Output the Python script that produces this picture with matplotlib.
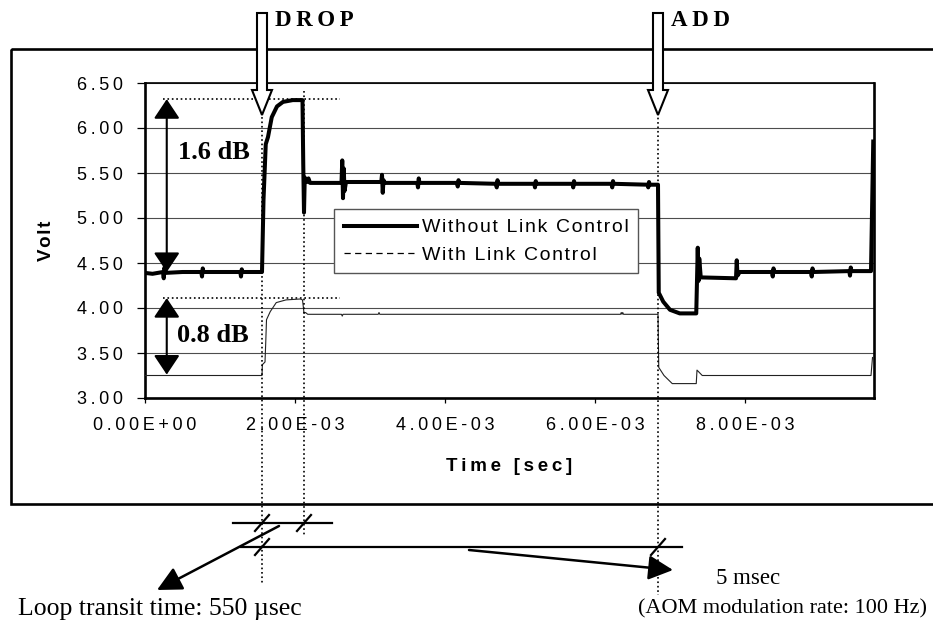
import matplotlib
matplotlib.use('Agg')
import matplotlib.pyplot as plt
import matplotlib.transforms as mtransforms
from matplotlib.lines import Line2D
from matplotlib.patches import Polygon, Rectangle, FancyArrowPatch
import numpy as np

plt.rcParams['font.family'] = ['Liberation Sans', 'DejaVu Sans']
SERIF = ['Liberation Serif', 'DejaVu Serif']

# Without link control (time in msec, level in volt)
t_without = [0.00, 0.10, 0.24, 0.25, 0.26, 0.27, 0.50, 0.75, 0.76, 0.77, 0.78,
             1.27, 1.28, 1.29, 1.30, 1.56, 1.58, 1.61, 1.64, 1.69, 1.76, 1.84,
             1.97, 2.10, 2.11, 2.12, 2.13, 2.16, 2.18, 2.20, 2.62, 2.63, 2.64,
             2.65, 2.66, 2.68, 3.15, 3.16, 3.17, 3.18, 3.20, 3.63, 3.64, 3.65,
             3.66, 4.16, 4.17, 4.18, 4.19, 4.68, 4.69, 4.70, 4.71, 5.19, 5.20,
             5.21, 5.22, 5.70, 5.71, 5.72, 5.73, 6.22, 6.23, 6.24, 6.25, 6.70,
             6.71, 6.72, 6.73, 6.84, 6.85, 6.91, 7.00, 7.13, 7.35, 7.37, 7.38,
             7.39, 7.41, 7.88, 7.89, 7.90, 7.93, 8.36, 8.37, 8.38, 8.39, 8.88,
             8.89, 8.90, 8.91, 9.39, 9.40, 9.41, 9.42, 9.68, 9.71]
v_without = [4.39, 4.38, 4.40, 4.33, 4.45, 4.39, 4.40, 4.40, 4.35, 4.44, 4.40,
             4.40, 4.35, 4.43, 4.40, 4.40, 5.20, 5.82, 5.90, 6.12, 6.24, 6.29,
             6.31, 6.31, 5.60, 5.06, 5.45, 5.40, 5.44, 5.39, 5.39, 5.64, 5.22,
             5.55, 5.30, 5.40, 5.40, 5.48, 5.28, 5.42, 5.39, 5.39, 5.34, 5.44,
             5.39, 5.39, 5.35, 5.42, 5.39, 5.38, 5.34, 5.42, 5.38, 5.38, 5.34,
             5.41, 5.38, 5.38, 5.34, 5.41, 5.38, 5.38, 5.34, 5.41, 5.38, 5.37,
             5.34, 5.40, 5.37, 5.37, 4.17, 4.07, 3.98, 3.94, 3.94, 4.67, 4.30,
             4.55, 4.34, 4.33, 4.53, 4.36, 4.40, 4.40, 4.35, 4.44, 4.40, 4.40,
             4.35, 4.44, 4.40, 4.41, 4.36, 4.45, 4.41, 4.41, 5.85]

# With link control
t_with = [0.00, 1.56, 1.565, 1.60, 1.61, 1.62, 1.67, 1.75, 1.88, 2.07, 2.10,
          2.11, 2.12, 2.14, 2.17, 2.62, 2.63, 2.64, 3.11, 3.12, 3.13, 6.34,
          6.35, 6.36, 6.37, 6.38, 6.84, 6.85, 6.92, 7.03, 7.35, 7.36, 7.43,
          9.68, 9.70]
v_with = [3.25, 3.25, 3.37, 3.40, 3.62, 3.87, 3.96, 4.06, 4.09, 4.10, 4.09,
          4.02, 3.94, 3.95, 3.93, 3.93, 3.91, 3.93, 3.93, 3.95, 3.93, 3.93,
          3.95, 3.93, 3.95, 3.93, 3.93, 3.34, 3.25, 3.16, 3.16, 3.31, 3.25,
          3.25, 3.45]

y_ticks = [3.0, 3.5, 4.0, 4.5, 5.0, 5.5, 6.0, 6.5]
x_ticks = [0, 2e-3, 4e-3, 6e-3, 8e-3]
labels = ['Without Link Control', 'With Link Control']

# event times (sec) and levels used by the annotations
t_drop, t_back, t_add = 1.56e-3, 2.12e-3, 6.84e-3
peak_without, base_without = 6.32, 4.40
peak_with, base_with = 4.11, 3.26

THIN, HAIR = '\u2009', '\u200a'


def spaced(s, sep=THIN):
    # excel-like loose letter spacing
    return sep.join(s)


W, H = 933, 626
fig = plt.figure(figsize=(W / 100, H / 100), dpi=100)
# pixel coordinates with origin at top left
px = mtransforms.Affine2D().scale(1 / W, -1 / H).translate(0, 1) + fig.transFigure

# outer frame of the chart
fig.add_artist(Rectangle((11, 49), 940, 455, transform=px, fill=False,
                         lw=1.9, ec='black'))

ax = fig.add_axes([145 / W, 1 - 398 / H, 729 / W, 315 / H])
ax.plot(np.array(t_without) * 1e-3, v_without, color='black', lw=2.9,
        solid_joinstyle='round', zorder=4)
ax.plot(np.array(t_with) * 1e-3, v_with, color='#222222', lw=0.8, zorder=4)

ax.set_xlim(0, 9.72e-3)
ax.set_ylim(3.0, 6.5)
ax.set_yticks(y_ticks)
ax.set_yticklabels([spaced(f'{v:.2f}') for v in y_ticks])
ax.set_xticks(x_ticks)
ax.set_xticklabels([spaced(f'{v:.2E}') for v in x_ticks])
ax.yaxis.grid(True, color='#4d4d4d', lw=0.8)
ax.set_axisbelow(True)
ax.tick_params(axis='y', direction='out', length=5.8, width=0.9, pad=10,
               labelsize=13)
ax.tick_params(axis='x', direction='out', length=3.6, width=0.9, pad=10,
               labelsize=13)
for side in ['left', 'right', 'bottom']:
    ax.spines[side].set_linewidth(1.9)
ax.spines['top'].set_linewidth(1.2)

ax.set_ylabel(spaced('Volt', HAIR), fontweight='bold', fontsize=13.5)
ax.yaxis.set_label_coords(-0.1235, 0.5)
ax.set_xlabel(spaced('Time [sec]'), fontweight='bold', fontsize=13.5)
ax.xaxis.set_label_coords(0.5, -0.19)

# legend (the controlled trace is drawn solid but listed as dashed)
handles = [Line2D([], [], color='black', lw=2.9),
           Line2D([], [], color='black', lw=0.9, dashes=(5, 3.5))]
leg = ax.legend(handles, [spaced(s, HAIR) for s in labels], loc='upper left',
                bbox_to_anchor=(334, 209), bbox_transform=px, fontsize=14,
                fancybox=False, edgecolor='#555555', framealpha=1,
                borderpad=0.5, handlelength=3.75, handletextpad=0.25,
                labelspacing=0.5, borderaxespad=0)
leg.get_frame().set_linewidth(1)
leg.set_zorder(5)

# level markers and dB arrows
for lev in [peak_without, peak_with]:
    ax.plot([0.24e-3, 2.6e-3], [lev, lev], ls=':', color='black', lw=1.2,
            zorder=3)
arrow_kw = dict(arrowstyle='<|-|>,head_length=0.6,head_width=0.4',
                color='black', lw=1.5, mutation_scale=20, shrinkA=0, shrinkB=0)
ax.annotate('', xy=(0.29e-3, peak_without), xytext=(0.29e-3, base_without),
            arrowprops=arrow_kw, zorder=5)
ax.annotate('', xy=(0.29e-3, peak_with), xytext=(0.29e-3, base_with),
            arrowprops=arrow_kw, zorder=5)
ax.text(0.92e-3, 5.73, '1.6 dB', family=SERIF, fontweight='bold',
        fontsize=19, ha='center', va='center', zorder=6)
ax.text(0.91e-3, 3.69, '0.8 dB', family=SERIF, fontweight='bold',
        fontsize=19, ha='center', va='center', zorder=6)

# dotted event lines running below the axes
trans = mtransforms.blended_transform_factory(ax.transData, px)
for t, y0, y1 in [(t_drop, 95, 585), (t_back, 91, 537), (t_add, 100, 595)]:
    fig.add_artist(Line2D([t, t], [y0, y1], transform=trans, ls=':',
                          lw=1.2, color='black', zorder=3))

xd = {t: ax.transData.transform((t, 0))[0] for t in [t_drop, t_back, t_add]}

# hollow block arrows for DROP / ADD
for t, name in [(t_drop, 'DROP'), (t_add, 'ADD')]:
    xc = xd[t]
    pts = [(xc - 5, 13), (xc + 5, 13), (xc + 5, 90), (xc + 10, 90),
           (xc, 115), (xc - 10, 90), (xc - 5, 90)]
    fig.add_artist(Polygon(pts, closed=True, fc='white', ec='black', lw=1.5,
                           transform=px, zorder=6))
    fig.text(xc + 13, 21, spaced(name), transform=px, family=SERIF,
             fontweight='bold', fontsize=16.5, ha='left', va='center')

# timing bars under the chart
fig.add_artist(Line2D([233, 332], [523, 523], transform=px, color='black', lw=1.6))
fig.add_artist(Line2D([241, 682], [547, 547], transform=px, color='black', lw=1.6))
for t, y in [(t_drop, 523), (t_back, 523), (t_drop, 547), (t_add, 547)]:
    fig.add_artist(Line2D([xd[t] - 7, xd[t] + 7], [y + 8, y - 8],
                          transform=px, color='black', lw=1.6))

head = '-|>,head_length=0.6,head_width=0.3'
fig.add_artist(FancyArrowPatch((279, 526), (157, 590), transform=px,
                               arrowstyle=head, mutation_scale=25, lw=1.8,
                               color='black', shrinkA=0, shrinkB=0))
fig.add_artist(FancyArrowPatch((469, 550), (673, 570), transform=px,
                               arrowstyle=head, mutation_scale=25, lw=1.8,
                               color='black', shrinkA=0, shrinkB=0))

fig.text(160, 609, 'Loop transit time: 550 \u00b5sec', transform=px,
         family=SERIF, fontsize=18.5, ha='center', va='center')
fig.text(716, 579, '5 msec', transform=px, family=SERIF, fontsize=16.5,
         ha='left', va='center')
fig.text(782, 609, '(AOM modulation rate: 100 Hz)', transform=px,
         family=SERIF, fontsize=16, ha='center', va='center')

fig.savefig('out.png', dpi=100)
